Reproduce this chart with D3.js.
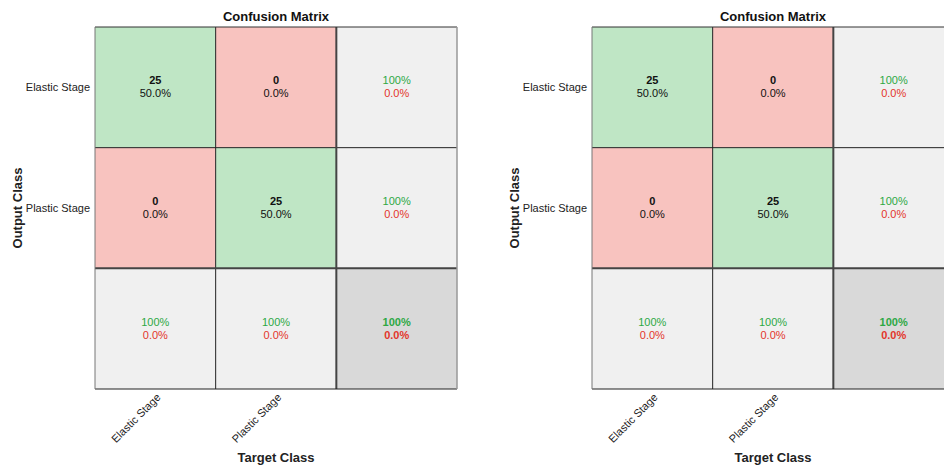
<!DOCTYPE html>
<html>
<head>
<meta charset="utf-8">
<script src="https://cdn.jsdelivr.net/npm/d3@7"></script>
<style>
  html, body { margin: 0; padding: 0; background: #fff; }
  svg { display: block; font-family: "Liberation Sans", Arial, Helvetica, sans-serif; }
</style>
</head>
<body>
<svg id="chart" width="944" height="468"></svg>
<script>
// Class names and count matrix (rows = output class, columns = target class)
const classes = ["Elastic Stage", "Plastic Stage"];
const countsLeft = [[25, 0], [0, 25]];
const countsRight = [[25, 0], [0, 25]];
const titleText = "Confusion Matrix";
const xAxisTitle = "Target Class";
const yAxisTitle = "Output Class";

const panels = [
  { x0: 95, counts: countsLeft },
  { x0: 592, counts: countsRight }
];

const colors = {
  correct: "#bfe6c5",
  wrong: "#f8c3bf",
  summary: "#f0f0f0",
  total: "#d9d9d9",
  goodText: "#2da844",
  badText: "#e3352b",
  text: "#111"
};

const svg = d3.select("#chart");
const size = 362, y0 = 27;
const n = classes.length;
const fmtPct = v => (v === 1 ? "100%" : (v * 100).toFixed(1) + "%");

panels.forEach(p => {
  const g = svg.append("g").attr("transform", `translate(${p.x0},${y0})`);
  const idx = d3.range(n + 1);
  const band = d3.scaleBand().domain(idx).range([0, size]);
  const bw = band.bandwidth();
  const total = d3.sum(p.counts.flat());

  // build cells: matrix cells, row summaries, column summaries, overall
  const cells = [];
  for (let r = 0; r <= n; r++) {
    for (let c = 0; c <= n; c++) {
      if (r < n && c < n) {
        const v = p.counts[r][c];
        cells.push({ r, c, type: r === c ? "correct" : "wrong",
          lines: [{ t: String(v), bold: true, color: colors.text },
                  { t: (v / total * 100).toFixed(1) + "%", bold: false, color: colors.text }] });
      } else if (r < n || c < n) {
        let hit, all;
        if (c === n) { hit = p.counts[r][r]; all = d3.sum(p.counts[r]); }
        else { hit = p.counts[c][c]; all = d3.sum(p.counts, row => row[c]); }
        const acc = all ? hit / all : 0;
        cells.push({ r, c, type: "summary",
          lines: [{ t: fmtPct(acc), bold: false, color: colors.goodText },
                  { t: fmtPct(1 - acc), bold: false, color: colors.badText }] });
      } else {
        const hit = d3.sum(d3.range(n), i => p.counts[i][i]);
        const acc = hit / total;
        cells.push({ r, c, type: "total",
          lines: [{ t: fmtPct(acc), bold: true, color: colors.goodText },
                  { t: fmtPct(1 - acc), bold: true, color: colors.badText }] });
      }
    }
  }

  g.selectAll("rect.cell").data(cells).join("rect")
    .attr("class", "cell")
    .attr("x", d => band(d.c)).attr("y", d => band(d.r))
    .attr("width", bw).attr("height", bw)
    .attr("fill", d => colors[d.type]);

  cells.forEach(d => {
    const cx = band(d.c) + bw / 2, cy = band(d.r) + bw / 2;
    d.lines.forEach((l, i) => {
      g.append("text")
        .attr("x", cx).attr("y", cy + (i === 0 ? -3 : 10))
        .attr("text-anchor", "middle")
        .attr("font-size", 11)
        .attr("font-weight", l.bold ? "bold" : "normal")
        .attr("fill", l.color)
        .text(l.t);
    });
  });

  // inner grid lines
  idx.slice(1).forEach(i => {
    const thick = i === n;
    g.append("line").attr("x1", band(i)).attr("x2", band(i)).attr("y1", 0).attr("y2", size)
      .attr("stroke", thick ? "#444" : "#222").attr("stroke-width", thick ? 2 : 1);
    g.append("line").attr("y1", band(i)).attr("y2", band(i)).attr("x1", 0).attr("x2", size)
      .attr("stroke", thick ? "#444" : "#222").attr("stroke-width", thick ? 2 : 1);
  });
  // outer box
  g.append("line").attr("x1", 0).attr("x2", size).attr("y1", 0).attr("y2", 0).attr("stroke", "#333");
  g.append("line").attr("x1", 0).attr("x2", size).attr("y1", size).attr("y2", size).attr("stroke", "#222");
  g.append("line").attr("x1", 0).attr("x2", 0).attr("y1", 0).attr("y2", size).attr("stroke", "#777");
  g.append("line").attr("x1", size).attr("x2", size).attr("y1", 0).attr("y2", size).attr("stroke", "#999").attr("stroke-width", 1.5);

  // row labels
  classes.forEach((c, i) => {
    g.append("text").attr("x", -5).attr("y", band(i) + bw / 2 + 4)
      .attr("text-anchor", "end").attr("font-size", 11).attr("fill", "#222").text(c);
  });
  // column labels (rotated)
  classes.forEach((c, i) => {
    const tx = band(i) + bw / 2 + 6, ty = size + 9;
    g.append("text")
      .attr("transform", `translate(${tx},${ty}) rotate(-45)`)
      .attr("text-anchor", "end").attr("font-size", 11).attr("fill", "#222").text(c);
  });

  g.append("text").attr("x", size / 2).attr("y", -6).attr("text-anchor", "middle")
    .attr("font-size", 13).attr("font-weight", "bold").attr("fill", "#111").text(titleText);
  g.append("text").attr("x", size / 2).attr("y", size + 73).attr("text-anchor", "middle")
    .attr("font-size", 13).attr("font-weight", "bold").attr("fill", "#222").text(xAxisTitle);
  g.append("text").attr("transform", `translate(-73,${size / 2}) rotate(-90)`)
    .attr("text-anchor", "middle")
    .attr("font-size", 13).attr("font-weight", "bold").attr("fill", "#222").text(yAxisTitle);
});
</script>
</body>
</html>
